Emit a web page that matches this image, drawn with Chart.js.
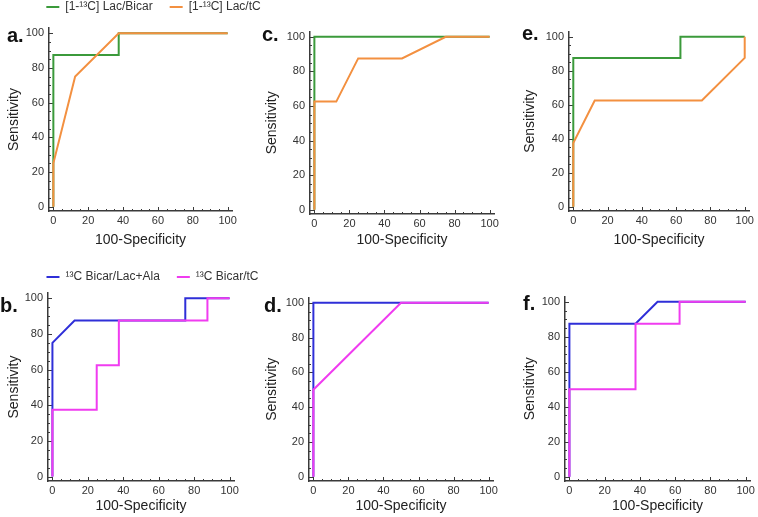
<!DOCTYPE html>
<html>
<head>
<meta charset="utf-8">
<script src="https://cdn.jsdelivr.net/npm/chart.js@4.4.1/dist/chart.umd.min.js"></script>
<style>
  body { margin: 0; width: 758px; height: 517px; background: #fff; position: relative; overflow: hidden;
         font-family: "Liberation Sans", Arial, sans-serif; }
  canvas { position: absolute; }
  .tag { position: absolute; font-weight: bold; font-size: 20px; line-height: 1; color: #111; }
</style>
</head>
<body>
<canvas id="a"></canvas>
<canvas id="c"></canvas>
<canvas id="e"></canvas>
<canvas id="b"></canvas>
<canvas id="d"></canvas>
<canvas id="f"></canvas>
<div class="tag" style="left:7px;top:25px">a.</div>
<div class="tag" style="left:262px;top:24px">c.</div>
<div class="tag" style="left:522px;top:23px">e.</div>
<div class="tag" style="left:0px;top:295px">b.</div>
<div class="tag" style="left:264px;top:295px">d.</div>
<div class="tag" style="left:523px;top:293px">f.</div>
<script>
const TICKS = [0, 20, 40, 60, 80, 100];
const NAMES_TOP = ['[1-¹³C] Lac/Bicar', '[1-¹³C] Lac/tC'];
const NAMES_BOTTOM = ['¹³C Bicar/Lac+Ala', '¹³C Bicar/tC'];

// ROC curves: x = 100-specificity, y = sensitivity
const aBicarX = [0, 0, 37.5, 37.5, 100];
const aBicarY = [0, 87.5, 87.5, 100, 100];
const aTcX = [0, 0, 12.5, 37.5, 100];
const aTcY = [0, 25, 75, 100, 100];

const cBicarX = [0, 0, 100];
const cBicarY = [0, 100, 100];
const cTcX = [0, 0, 12.5, 25, 50, 75, 100];
const cTcY = [0, 62.5, 62.5, 87.5, 87.5, 100, 100];

const eBicarX = [0, 0, 62.5, 62.5, 100];
const eBicarY = [0, 87.5, 87.5, 100, 100];
const eTcX = [0, 0, 12.5, 75, 100, 100];
const eTcY = [0, 37.5, 62.5, 62.5, 87.5, 100];

const bAlaX = [0, 0, 12.5, 75, 75, 100];
const bAlaY = [0, 75, 87.5, 87.5, 100, 100];
const bTcX = [0, 0, 25, 25, 37.5, 37.5, 87.5, 87.5, 100];
const bTcY = [0, 37.5, 37.5, 62.5, 62.5, 87.5, 87.5, 100, 100];

const dAlaX = [0, 0, 100];
const dAlaY = [0, 100, 100];
const dTcX = [0, 0, 50, 100];
const dTcY = [0, 50, 100, 100];

const fAlaX = [0, 0, 37.5, 50, 100];
const fAlaY = [0, 87.5, 87.5, 100, 100];
const fTcX = [0, 0, 37.5, 37.5, 62.5, 62.5, 100];
const fTcY = [0, 50, 50, 87.5, 87.5, 100, 100];

const GREEN = '#3b9a3b', ORANGE = '#f39040', BLUE = '#2f2fd8', MAGENTA = '#f03cf0';
const AXIS = '#3a3a3a';
const LEGEND_PAD = 17;
const LEGEND_H = 22 + LEGEND_PAD;

// canvas box [left, top, width, height] and plot box [left, top, right, bottom]
const PANELS = [
  {id: 'a', box: [6, -16, 295, 265], plot: [49, 28, 232, 211], names: NAMES_TOP, colors: [GREEN, ORANGE],
   curves: [[aBicarX, aBicarY], [aTcX, aTcY]], legend: true},
  {id: 'c', box: [264, 20, 238, 229], plot: [310, 29, 494, 214], names: NAMES_TOP, colors: [GREEN, ORANGE],
   curves: [[cBicarX, cBicarY], [cTcX, cTcY]]},
  {id: 'e', box: [522, 20, 236, 229], plot: [569, 29, 749, 211], names: NAMES_TOP, colors: [GREEN, ORANGE],
   curves: [[eBicarX, eBicarY], [eTcX, eTcY]]},
  {id: 'b', box: [6, 254, 293, 261], plot: [48, 293, 234, 481], names: NAMES_BOTTOM, colors: [BLUE, MAGENTA],
   curves: [[bAlaX, bAlaY], [bTcX, bTcY]], legend: true},
  {id: 'd', box: [264, 286, 238, 229], plot: [309, 295, 493, 481], names: NAMES_BOTTOM, colors: [BLUE, MAGENTA],
   curves: [[dAlaX, dAlaY], [dTcX, dTcY]]},
  {id: 'f', box: [522, 285, 236, 230], plot: [565, 294, 752, 481], names: NAMES_BOTTOM, colors: [BLUE, MAGENTA],
   curves: [[fAlaX, fAlaY], [fTcX, fTcY]]},
];

// Mathematica-like ticks drawn inward from the frame
const innerTicks = {
  id: 'innerTicks',
  beforeDatasetsDraw(chart) {
    const {ctx, chartArea, scales: {x, y}} = chart;
    ctx.save();
    ctx.strokeStyle = AXIS;
    ctx.lineWidth = 1;
    for (let v = 0; v <= 100; v += 5) {
      const len = v % 20 === 0 ? 4 : 2;
      const px = Math.round(x.getPixelForValue(v)) + 0.5;
      const py = Math.round(y.getPixelForValue(v)) + 0.5;
      ctx.beginPath();
      ctx.moveTo(px, chartArea.bottom);
      ctx.lineTo(px, chartArea.bottom - len);
      ctx.moveTo(chartArea.left, py);
      ctx.lineTo(chartArea.left + len, py);
      ctx.stroke();
    }
    ctx.restore();
  }
};

const hidden = (axis, position, size) => ({
  type: 'linear', axis, position, display: true,
  grid: {display: false}, border: {display: false}, ticks: {display: false},
  afterFit: s => { if (axis === 'x') s.height = size; else s.width = size; }
});

PANELS.forEach(p => {
  const canvas = document.getElementById(p.id);
  const [left, top, width, height] = p.box;
  const [pl, pt, pr, pb] = p.plot;
  canvas.width = width;
  canvas.height = height;
  canvas.style.left = left + 'px';
  canvas.style.top = top + 'px';

  const datasets = p.curves.map(([xs, ys], i) => ({
    label: p.names[i],
    data: xs.map((x, k) => ({x, y: ys[k]})),
    borderColor: p.colors[i],
    backgroundColor: p.colors[i],
    borderWidth: 2,
    pointRadius: 0,
    tension: 0,
    order: 1 - i
  }));

  const scales = {
    x: {
      type: 'linear', min: -2.5, max: 102.5,
      afterBuildTicks: s => { s.ticks = TICKS.map(v => ({value: v})); },
      grid: {display: true, drawOnChartArea: false, drawTicks: false},
      border: {display: true, color: AXIS, width: 1.5},
      ticks: {padding: 3, color: '#333', font: {size: 11}},
      title: {display: true, text: '100-Specificity', color: '#222', font: {size: 14}, padding: 0},
      afterFit: s => { s.height = top + height - pb; }
    },
    y: {
      type: 'linear', min: -2.5, max: 103,
      afterBuildTicks: s => { s.ticks = TICKS.map(v => ({value: v})); },
      grid: {display: true, drawOnChartArea: false, drawTicks: false},
      border: {display: true, color: AXIS, width: 1.5},
      ticks: {padding: 5, color: '#333', font: {size: 11}},
      title: {display: true, text: 'Sensitivity', color: '#222', font: {size: 14}, padding: 0},
      afterFit: s => { s.width = pl - left; }
    }
  };
  let padding = {top: pt - top, right: left + width - pr};
  if (p.legend) {
    scales.padR = hidden('y', 'right', left + width - pr);
    scales.padT = hidden('x', 'top', pt - top - LEGEND_H);
    padding = 0;
  }

  new Chart(canvas, {
    type: 'line',
    data: {datasets},
    plugins: [innerTicks],
    options: {
      responsive: false,
      animation: false,
      devicePixelRatio: 1,
      layout: {padding},
      scales,
      plugins: {
        tooltip: {enabled: false},
        legend: {
          display: !!p.legend,
          position: 'top',
          align: 'center',
          labels: {
            usePointStyle: true, pointStyle: 'line', pointStyleWidth: 13, boxHeight: 12,
            padding: LEGEND_PAD, color: '#333', font: {size: 12},
            sort: (a, b) => a.datasetIndex - b.datasetIndex
          }
        }
      }
    }
  });
});
</script>
</body>
</html>
